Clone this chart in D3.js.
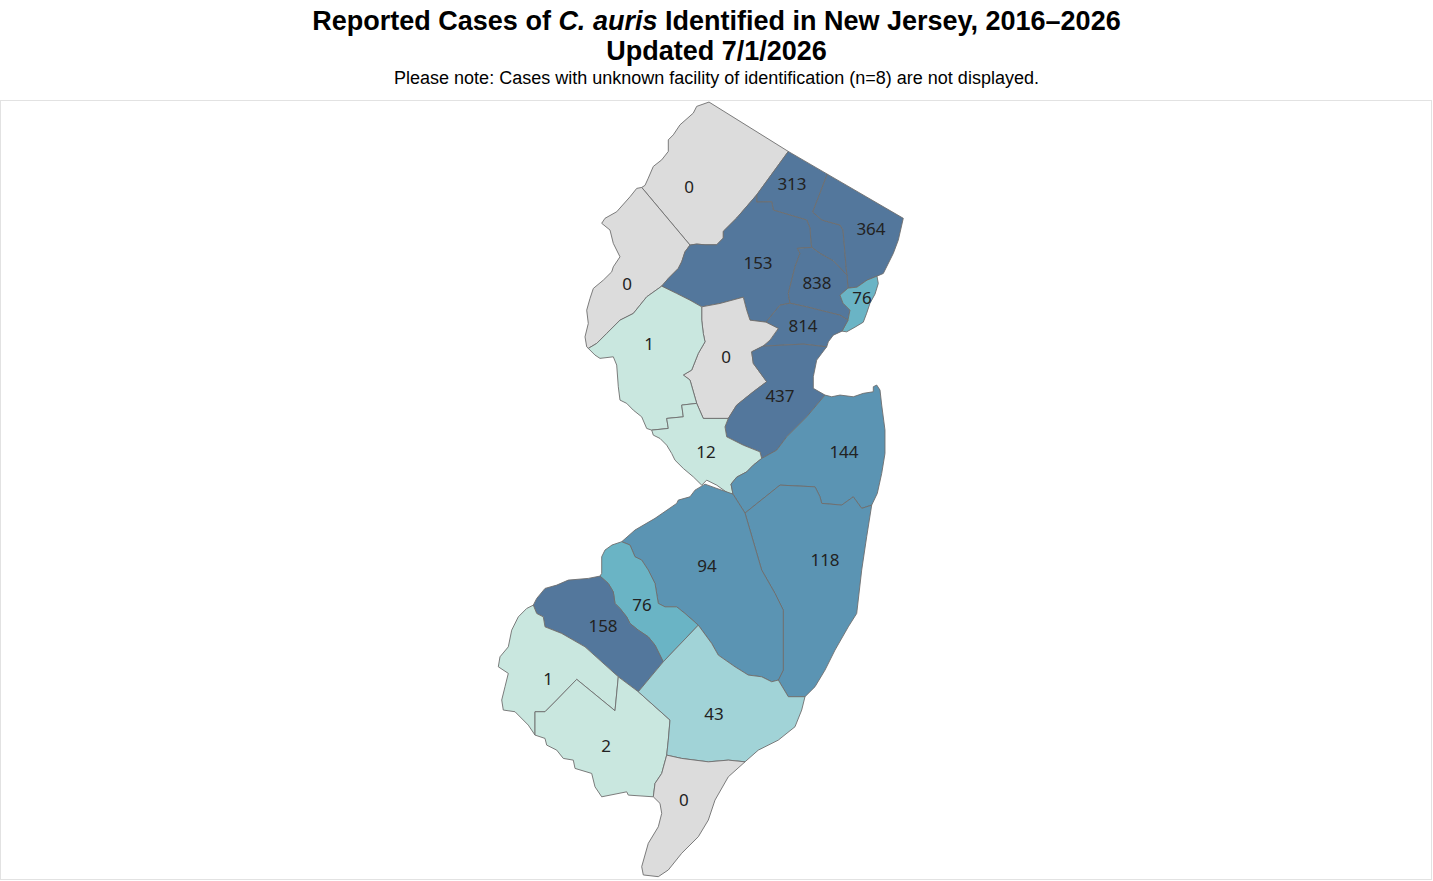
<!DOCTYPE html>
<html>
<head>
<meta charset="utf-8">
<script src="https://cdn.jsdelivr.net/npm/d3@7"></script>
<style>
  body { margin: 0; background: #fff; }
  svg { display: block; }
</style>
</head>
<body>
<svg id="chart" width="1433" height="881"></svg>
<script>
// ---- data -------------------------------------------------------------
const countyNames = ['Sussex', 'Passaic', 'Bergen', 'Warren', 'Morris', 'Essex', 'Hudson',
  'Union', 'Somerset', 'Hunterdon', 'Middlesex', 'Mercer', 'Monmouth', 'Ocean',
  'Burlington', 'Camden', 'Gloucester', 'Salem', 'Cumberland', 'Atlantic', 'Cape May'];
const caseCounts = [0, 313, 364, 0, 153, 838, 76,
  814, 0, 1, 437, 12, 144, 118,
  94, 76, 158, 1, 2, 43, 0];
const colorBreaks = [1, 26, 51, 81, 151];
const colorSteps = ['#dcdcdc', '#c9e7df', '#a1d3d7', '#6ab4c5', '#5b94b3', '#53779c'];

// where the count sits in each county [lon, lat]
const labelPoints = [[-74.7783, 41.0909], [-74.3568, 41.1001], [-74.0335, 40.9614], [-75.0320, 40.7909],
  [-74.4959, 40.8560], [-74.2545, 40.7940], [-74.0703, 40.7474], [-74.3117, 40.6606],
  [-74.6269, 40.5645], [-74.9420, 40.6048], [-74.4059, 40.4432], [-74.7087, 40.2683],
  [-74.1440, 40.2683], [-74.2217, 39.9305], [-74.7046, 39.9116], [-74.9706, 39.7889],
  [-75.1302, 39.7228], [-75.3553, 39.5560], [-75.1180, 39.3441], [-74.6760, 39.4455],
  [-74.7988, 39.1730]];

// county borders as shared arcs [lon, lat] (simplified)
const arcs = {
  sussexPassaic: [[-74.3719, 41.2008], [-74.5012, 41.0671]],
  sussexMorris: [[-74.5012, 41.0671], [-74.5831, 40.9955], [-74.6379, 40.9543], [-74.6379, 40.9335], [-74.6649, 40.9127], [-74.7128, 40.9127], [-74.7468, 40.9149], [-74.7742, 40.9118]],
  sussexWarren: [[-74.7742, 40.9118], [-74.9719, 41.0899]],
  warrenMorris: [[-74.7742, 40.9118], [-74.7947, 40.8910], [-74.8082, 40.8600], [-74.8221, 40.8395], [-74.8630, 40.8085], [-74.8900, 40.7847]],
  warrenHunterdon: [[-74.8900, 40.7847], [-74.9514, 40.7515], [-75.0062, 40.7000], [-75.0607, 40.6792], [-75.1151, 40.6380], [-75.1560, 40.6070], [-75.1904, 40.5915]],
  passaicMorris: [[-74.5012, 41.0671], [-74.5012, 41.0447], [-74.4398, 41.0456], [-74.4333, 41.0200], [-74.3649, 41.0046], [-74.2966, 40.9893], [-74.2831, 40.9645], [-74.2790, 40.9180], [-74.2761, 40.9047]],
  passaicBergen: [[-74.2123, 41.1309], [-74.2720, 41.0139], [-74.2340, 40.9893], [-74.1603, 40.9738], [-74.1480, 40.9583], [-74.1399, 40.8870], [-74.1358, 40.8467], [-74.1317, 40.8188]],
  passaicEssex: [[-74.2761, 40.9047], [-74.2422, 40.8861], [-74.1877, 40.8631], [-74.1317, 40.8188]],
  morrisEssex: [[-74.2761, 40.9047], [-74.3351, 40.9016], [-74.3240, 40.8861], [-74.3445, 40.8445], [-74.3580, 40.8033], [-74.3719, 40.7620], [-74.3649, 40.7319]],
  bergenEssex: [[-74.1317, 40.8188], [-74.1276, 40.7785]],
  bergenHudson: [[-74.1276, 40.7785], [-74.0908, 40.7816], [-74.0498, 40.8033], [-74.0089, 40.8157]],
  essexHudson: [[-74.1276, 40.7785], [-74.1603, 40.7567], [-74.1480, 40.7319], [-74.1194, 40.7102], [-74.1276, 40.6792]],
  essexUnion: [[-74.1276, 40.6792], [-74.1603, 40.6947], [-74.2148, 40.7050], [-74.2966, 40.7205], [-74.3649, 40.7319]],
  morrisUnion: [[-74.3649, 40.7319], [-74.4059, 40.7257], [-74.4632, 40.6730]],
  morrisSomerset: [[-74.4632, 40.6730], [-74.5286, 40.6792], [-74.5422, 40.7102], [-74.5561, 40.7505], [-74.6514, 40.7310], [-74.7263, 40.7205]],
  morrisHunterdon: [[-74.7263, 40.7205], [-74.7742, 40.7412], [-74.8286, 40.7620], [-74.8900, 40.7847]],
  unionSomerset: [[-74.4632, 40.6730], [-74.4128, 40.6535], [-74.4468, 40.6172], [-74.4754, 40.5986]],
  unionMiddlesex: [[-74.4754, 40.5986], [-74.3105, 40.6048], [-74.2148, 40.5964]],
  unionHudson: [[-74.1521, 40.6451], [-74.1276, 40.6792]],
  somersetMiddlesex: [[-74.4754, 40.5986], [-74.5217, 40.5809], [-74.5151, 40.5450], [-74.4603, 40.4878], [-74.5151, 40.4566], [-74.5831, 40.4151], [-74.6175, 40.3735]],
  somersetHunterdon: [[-74.7263, 40.7205], [-74.7263, 40.6792], [-74.7198, 40.6380], [-74.7128, 40.6119], [-74.7402, 40.5760], [-74.7672, 40.5242], [-74.8016, 40.5087], [-74.7742, 40.4931], [-74.7468, 40.4204]],
  somersetMercer: [[-74.7468, 40.4204], [-74.7198, 40.3735], [-74.6175, 40.3735]],
  hunterdonMercer: [[-74.9309, 40.3370], [-74.8630, 40.3423], [-74.8696, 40.3735], [-74.8016, 40.3785], [-74.8082, 40.4151], [-74.7468, 40.4204]],
  middlesexMercer: [[-74.6175, 40.3735], [-74.6310, 40.3473], [-74.6240, 40.3161], [-74.5561, 40.2901], [-74.4877, 40.2692], [-74.4808, 40.2486]],
  middlesexMonmouth: [[-74.4808, 40.2486], [-74.4194, 40.2745], [-74.3785, 40.3161], [-74.2966, 40.3785], [-74.2217, 40.4463]],
  mercerMonmouth: [[-74.4808, 40.2486], [-74.5151, 40.2277], [-74.5422, 40.2067], [-74.5831, 40.1902], [-74.6064, 40.1683], [-74.5982, 40.1371]],
  monmouthBurlington: [[-74.5982, 40.1371], [-74.5491, 40.0778]],
  monmouthOcean: [[-74.5491, 40.0778], [-74.4059, 40.1652], [-74.2626, 40.1599], [-74.2422, 40.1287], [-74.2352, 40.1081], [-74.1534, 40.1028], [-74.1059, 40.1287], [-74.0715, 40.0924], [-74.0306, 40.1028]],
  burlingtonOcean: [[-74.5491, 40.0778], [-74.4808, 39.8990], [-74.4263, 39.8257], [-74.3924, 39.7731], [-74.3924, 39.5843], [-74.4128, 39.5529]],
  burlingtonAtlantic: [[-74.7402, 39.7259], [-74.6854, 39.6683], [-74.6584, 39.6315], [-74.5900, 39.5947], [-74.5356, 39.5686], [-74.4808, 39.5632], [-74.4398, 39.5475], [-74.4128, 39.5529]],
  oceanAtlantic: [[-74.4128, 39.5529], [-74.3719, 39.5003], [-74.3036, 39.5003]],
  burlingtonCamden: [[-75.0537, 39.9880], [-75.0197, 39.9777], [-74.9993, 39.9408], [-74.9719, 39.9305], [-74.9449, 39.8990], [-74.9174, 39.8571], [-74.9039, 39.7942], [-74.8765, 39.7835], [-74.8286, 39.7835], [-74.7947, 39.7627], [-74.7402, 39.7259]],
  camdenAtlantic: [[-74.7402, 39.7259], [-74.8835, 39.6104]],
  camdenGloucester: [[-75.1425, 39.8801], [-75.1086, 39.8571], [-75.0881, 39.8307], [-75.0811, 39.7942], [-75.0607, 39.7785], [-75.0333, 39.7520], [-75.0197, 39.7313], [-74.9858, 39.7102], [-74.9449, 39.6891], [-74.9174, 39.6630], [-74.8835, 39.6104]],
  gloucesterAtlantic: [[-74.8835, 39.6104], [-74.9858, 39.5160]],
  gloucesterCumberland: [[-75.0676, 39.5632], [-74.9858, 39.5160]],
  gloucesterSalem: [[-75.4155, 39.7889], [-75.4016, 39.7627], [-75.3746, 39.7520], [-75.3676, 39.7206], [-75.2993, 39.6998], [-75.2039, 39.6576], [-75.0676, 39.5632]],
  salemCumberland: [[-75.0676, 39.5632], [-75.0811, 39.4560], [-75.2379, 39.5551], [-75.3197, 39.4899], [-75.3676, 39.4528], [-75.4085, 39.4528], [-75.4085, 39.3790]],
  cumberlandAtlantic: [[-74.9858, 39.5160], [-74.8560, 39.4265], [-74.8630, 39.3631], [-74.8696, 39.3156]],
  cumberlandCapeMay: [[-74.8696, 39.3156], [-74.8900, 39.2576], [-74.9174, 39.2259], [-74.9244, 39.1835]],
  atlanticCapeMay: [[-74.8696, 39.3156], [-74.8082, 39.3051], [-74.6993, 39.2944], [-74.6175, 39.2998], [-74.5491, 39.2944]],
  // state line, rivers and shore
  oSussex: [[-74.9719, 41.0899], [-74.9584, 41.0961], [-74.9449, 41.1186], [-74.9244, 41.1546], [-74.8900, 41.1749], [-74.8630, 41.2008], [-74.8630, 41.2365], [-74.8425, 41.2519], [-74.8151, 41.2827], [-74.7607, 41.3188], [-74.7468, 41.3394], [-74.6964, 41.3527], [-74.3719, 41.2008]],
  oPassaic: [[-74.3719, 41.2008], [-74.2123, 41.1309]],
  oBergen: [[-74.2123, 41.1309], [-73.9013, 40.9946], [-73.9217, 40.9273], [-73.9422, 40.8861], [-73.9831, 40.8240], [-74.0089, 40.8157]],
  oHudson: [[-74.0089, 40.8157], [-74.0036, 40.7930], [-74.0171, 40.7599], [-74.0375, 40.7319], [-74.0511, 40.7009], [-74.0650, 40.6730], [-74.0989, 40.6575], [-74.1329, 40.6430], [-74.1521, 40.6451]],
  oUnion: [[-74.1521, 40.6451], [-74.1877, 40.6327], [-74.2082, 40.6119], [-74.2148, 40.5964]],
  oMiddlesex: [[-74.2148, 40.5964], [-74.2352, 40.5760], [-74.2557, 40.5552], [-74.2696, 40.5034], [-74.2696, 40.4672], [-74.2217, 40.4463]],
  oMonmouth: [[-74.2217, 40.4463], [-74.1943, 40.4410], [-74.1603, 40.4463], [-74.1059, 40.4410], [-74.0650, 40.4516], [-74.0240, 40.4566], [-74.0240, 40.4722], [-74.0101, 40.4775], [-73.9966, 40.4619], [-73.9897, 40.4151], [-73.9762, 40.3370], [-73.9762, 40.2642], [-73.9897, 40.2018], [-74.0077, 40.1393], [-74.0306, 40.1028]],
  oOcean: [[-74.0306, 40.1028], [-74.0511, 40.0037], [-74.0715, 39.8990], [-74.0920, 39.7627], [-74.1264, 39.7206], [-74.1808, 39.6473], [-74.2217, 39.5843], [-74.2626, 39.5318], [-74.3036, 39.5003]],
  oAtlantic: [[-74.3036, 39.5003], [-74.3171, 39.4582], [-74.3445, 39.4053], [-74.4128, 39.3631], [-74.4947, 39.3314], [-74.5491, 39.2944]],
  oCapeMay: [[-74.5491, 39.2944], [-74.6175, 39.2468], [-74.6719, 39.1730], [-74.6993, 39.1096], [-74.7402, 39.0567], [-74.8082, 39.0041], [-74.8630, 38.9510], [-74.9039, 38.9297], [-74.9653, 38.9351], [-74.9719, 38.9615], [-74.9449, 39.0358], [-74.9039, 39.0884], [-74.8900, 39.1309], [-74.8970, 39.1626], [-74.9244, 39.1835]],
  oCumberland: [[-74.9244, 39.1835], [-75.0267, 39.1889], [-75.0333, 39.1993], [-75.1356, 39.1835], [-75.1630, 39.2152], [-75.1765, 39.2576], [-75.2448, 39.2735], [-75.2518, 39.2998], [-75.2927, 39.3051], [-75.3197, 39.3314], [-75.3607, 39.3473], [-75.3676, 39.3685], [-75.4085, 39.3790]],
  oSalem: [[-75.4085, 39.3790], [-75.4360, 39.4106], [-75.4904, 39.4528], [-75.5383, 39.4582], [-75.5448, 39.4899], [-75.5313, 39.5318], [-75.5178, 39.5739], [-75.5587, 39.5947], [-75.5518, 39.6262], [-75.5178, 39.6576], [-75.5039, 39.7102], [-75.4769, 39.7520], [-75.4425, 39.7785], [-75.4155, 39.7889]],
  oGloucester: [[-75.4155, 39.7889], [-75.4016, 39.8099], [-75.3676, 39.8414], [-75.3197, 39.8518], [-75.2723, 39.8675], [-75.1904, 39.8729], [-75.1425, 39.8801]],
  oCamden: [[-75.1425, 39.8801], [-75.1356, 39.8886], [-75.1356, 39.9408], [-75.1221, 39.9619], [-75.0934, 39.9777], [-75.0537, 39.9880]],
  oBurlington: [[-75.0537, 39.9880], [-74.9993, 40.0247], [-74.9174, 40.0612], [-74.8286, 40.1081], [-74.8221, 40.1184], [-74.7742, 40.1287], [-74.7537, 40.1496], [-74.7128, 40.1683], [-74.6678, 40.1558], [-74.5982, 40.1371]],
  oMercer: [[-74.5982, 40.1371], [-74.6175, 40.1393], [-74.6649, 40.1652], [-74.7059, 40.1808], [-74.7263, 40.1652], [-74.7607, 40.1911], [-74.8016, 40.2174], [-74.8356, 40.2433], [-74.8491, 40.2642], [-74.8696, 40.2901], [-74.8970, 40.3111], [-74.9244, 40.3214], [-74.9309, 40.3370]],
  oHunterdon: [[-74.9309, 40.3370], [-74.9514, 40.3423], [-74.9719, 40.3785], [-75.0062, 40.3994], [-75.0333, 40.4204], [-75.0607, 40.4307], [-75.0676, 40.4722], [-75.0742, 40.5397], [-75.0881, 40.5654], [-75.1425, 40.5605], [-75.1630, 40.5707], [-75.1904, 40.5915]],
  oWarren: [[-75.1904, 40.5915], [-75.1970, 40.5964], [-75.2039, 40.6274], [-75.1904, 40.6690], [-75.1970, 40.7102], [-75.1834, 40.7465], [-75.1699, 40.7775], [-75.1290, 40.8033], [-75.0946, 40.8290], [-75.0881, 40.8445], [-75.0607, 40.8755], [-75.0881, 40.9171], [-75.1016, 40.9583], [-75.1356, 40.9791], [-75.1221, 40.9946], [-75.0742, 41.0148], [-75.0197, 41.0610], [-74.9923, 41.0869], [-74.9719, 41.0899]]
};

// each county ring as a chain of arcs, "-" = walk the arc backwards
const countyRings = [
  ['oSussex', 'sussexPassaic', 'sussexMorris', 'sussexWarren'],
  ['oPassaic', 'passaicBergen', '-passaicEssex', '-passaicMorris', '-sussexPassaic'],
  ['oBergen', '-bergenHudson', '-bergenEssex', '-passaicBergen'],
  ['oWarren', '-sussexWarren', 'warrenMorris', 'warrenHunterdon'],
  ['-sussexMorris', 'passaicMorris', 'morrisEssex', 'morrisUnion', 'morrisSomerset', 'morrisHunterdon', '-warrenMorris'],
  ['passaicEssex', 'bergenEssex', 'essexHudson', 'essexUnion', '-morrisEssex'],
  ['bergenHudson', 'oHudson', 'unionHudson', '-essexHudson'],
  ['-essexUnion', '-unionHudson', 'oUnion', '-unionMiddlesex', '-unionSomerset', '-morrisUnion'],
  ['-morrisSomerset', 'unionSomerset', 'somersetMiddlesex', '-somersetMercer', '-somersetHunterdon'],
  ['-warrenHunterdon', '-morrisHunterdon', 'somersetHunterdon', '-hunterdonMercer', 'oHunterdon'],
  ['unionMiddlesex', 'oMiddlesex', '-middlesexMonmouth', '-middlesexMercer', '-somersetMiddlesex'],
  ['hunterdonMercer', 'somersetMercer', 'middlesexMercer', 'mercerMonmouth', 'oMercer'],
  ['middlesexMonmouth', 'oMonmouth', '-monmouthOcean', '-monmouthBurlington', '-mercerMonmouth'],
  ['monmouthOcean', 'oOcean', '-oceanAtlantic', '-burlingtonOcean'],
  ['monmouthBurlington', 'burlingtonOcean', '-burlingtonAtlantic', '-burlingtonCamden', 'oBurlington'],
  ['burlingtonCamden', 'camdenAtlantic', '-camdenGloucester', 'oCamden'],
  ['oGloucester', 'camdenGloucester', 'gloucesterAtlantic', '-gloucesterCumberland', '-gloucesterSalem'],
  ['gloucesterSalem', 'salemCumberland', 'oSalem'],
  ['-salemCumberland', 'gloucesterCumberland', 'cumberlandAtlantic', 'cumberlandCapeMay', 'oCumberland'],
  ['burlingtonAtlantic', 'oceanAtlantic', 'oAtlantic', '-atlanticCapeMay', '-cumberlandAtlantic', '-gloucesterAtlantic', '-camdenAtlantic'],
  ['atlanticCapeMay', 'oCapeMay', '-cumberlandCapeMay']
];

// ---- build features ---------------------------------------------------
function stitch(refs) {
  const pts = [];
  refs.forEach(ref => {
    const back = ref[0] === '-';
    const line = arcs[back ? ref.slice(1) : ref].slice();
    if (back) line.reverse();
    pts.push(...(pts.length ? line.slice(1) : line));
  });
  const first = pts[0], last = pts[pts.length - 1];
  if (first[0] !== last[0] || first[1] !== last[1]) pts.push(first);
  return pts;
}

const features = countyNames.map((name, i) => {
  const f = {
    type: 'Feature',
    properties: { name, cases: caseCounts[i], label: labelPoints[i] },
    geometry: { type: 'Polygon', coordinates: [stitch(countyRings[i])] }
  };
  // d3-geo wants clockwise rings; flip any that came out inside-out
  if (d3.geoArea(f) > 2 * Math.PI) f.geometry.coordinates[0].reverse();
  return f;
});

// ---- draw -------------------------------------------------------------
const svg = d3.select('#chart');

svg.append('rect')
  .attr('x', 0.5).attr('y', 100.5)
  .attr('width', 1431).attr('height', 779)
  .attr('fill', 'none')
  .attr('stroke', '#e2e2e2');

const title = svg.append('text')
  .attr('x', 716.5).attr('y', 30)
  .attr('text-anchor', 'middle')
  .style('font-family', '"Liberation Sans", Arial, sans-serif')
  .style('font-size', '27px')
  .style('font-weight', 'bold');
title.append('tspan').text('Reported Cases of ');
title.append('tspan').style('font-style', 'italic').text('C. auris');
title.append('tspan').text(' Identified in New Jersey, 2016\u20132026');

svg.append('text')
  .attr('x', 716.5).attr('y', 60)
  .attr('text-anchor', 'middle')
  .style('font-family', '"Liberation Sans", Arial, sans-serif')
  .style('font-size', '27px')
  .style('font-weight', 'bold')
  .text('Updated 7/1/2026');

svg.append('text')
  .attr('x', 716.5).attr('y', 84)
  .attr('text-anchor', 'middle')
  .style('font-family', '"Liberation Sans", Arial, sans-serif')
  .style('font-size', '18px')
  .text('Please note: Cases with unknown facility of identification (n=8) are not displayed.');

const projection = d3.geoMercator()
  .center([-74.5, 40.15])
  .scale(14000)
  .translate([757, 490]);
const path = d3.geoPath(projection);

const color = d3.scaleThreshold()
  .domain(colorBreaks)
  .range(colorSteps);

svg.append('g')
  .selectAll('path')
  .data(features)
  .join('path')
  .attr('d', path)
  .attr('fill', d => color(d.properties.cases))
  .attr('stroke', '#6e6e6e')
  .attr('stroke-width', 0.9)
  .attr('stroke-linejoin', 'round');

svg.append('g')
  .selectAll('text')
  .data(features)
  .join('text')
  .attr('x', d => projection(d.properties.label)[0])
  .attr('y', d => projection(d.properties.label)[1])
  .attr('dy', '0.35em')
  .attr('text-anchor', 'middle')
  .style('font-family', '"Noto Sans", sans-serif')
  .style('font-size', '17px')
  .attr('fill', '#222')
  .text(d => d.properties.cases);
</script>
</body>
</html>
